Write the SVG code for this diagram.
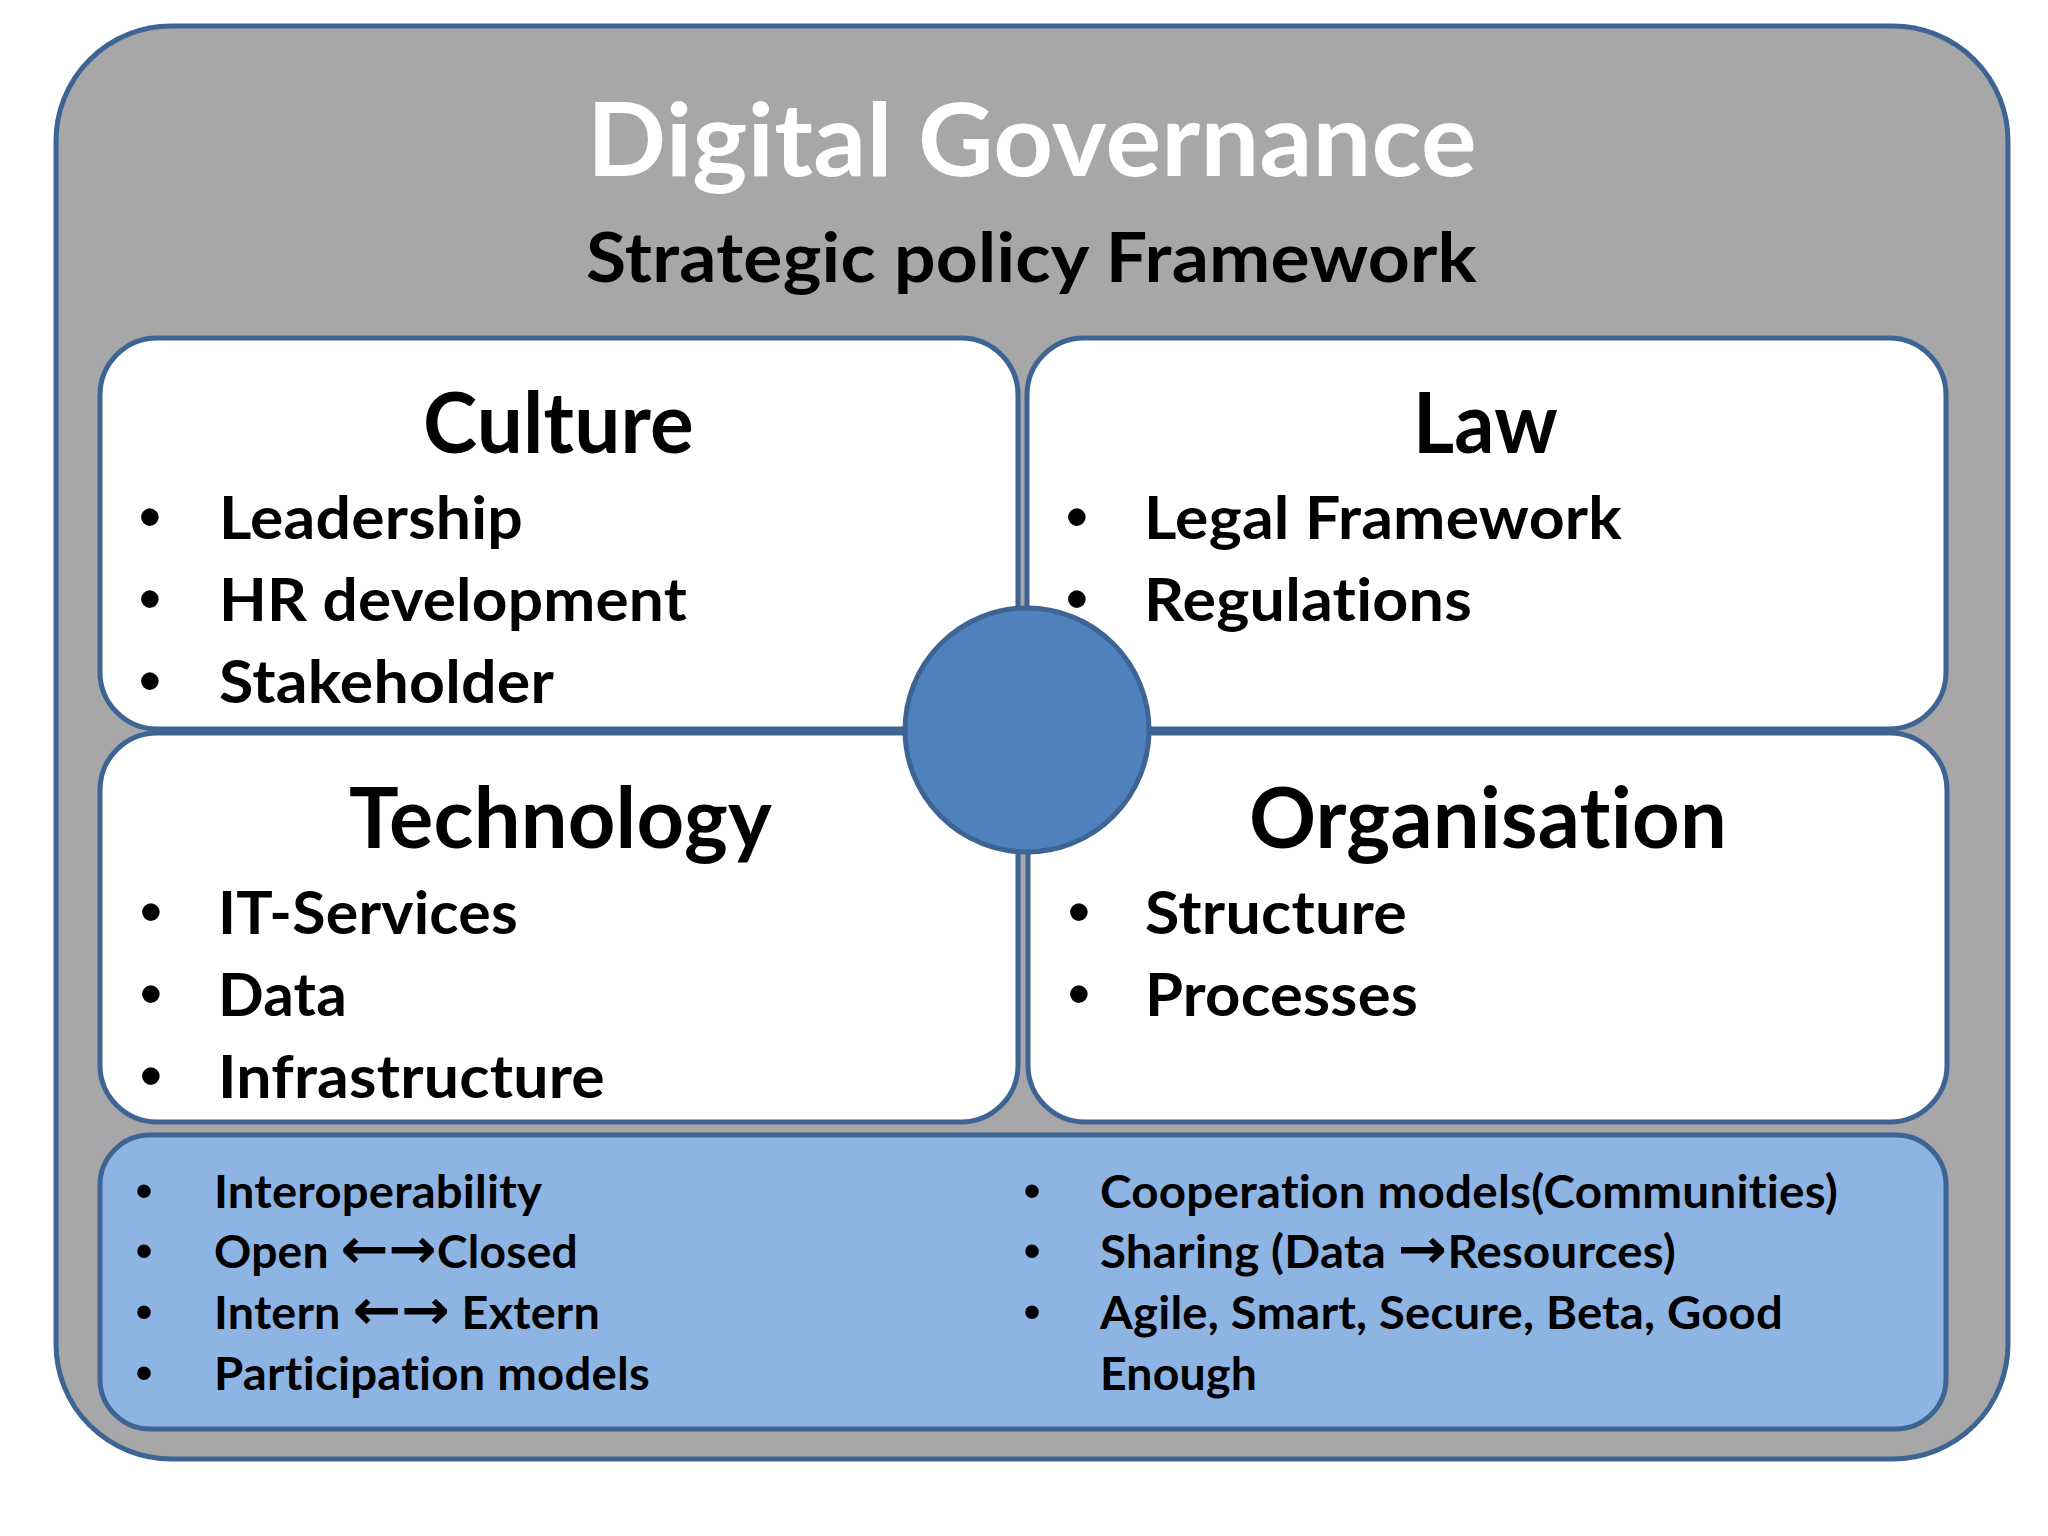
<svg xmlns="http://www.w3.org/2000/svg" width="2048" height="1536" viewBox="0 0 2048 1536">
<style>
.frame{stroke:#3E6493;stroke-width:5}
.t{font-family:Lato,"Open Sans","Liberation Sans",sans-serif;font-weight:700;fill:#000;font-variant-ligatures:none;font-feature-settings:"liga" 0,"clig" 0,"calt" 0,"dlig" 0;letter-spacing:0.2px}
.b{font-family:"Liberation Sans",Arial,sans-serif;font-weight:400;fill:#000;text-anchor:middle}
.arr{font-family:"DejaVu Sans",sans-serif;font-weight:700;font-size:56px}
.title{font-size:101px;fill:#FFFFFF}
.sub{font-size:68px}
.head{font-size:85px}
.item{font-size:59px}
.bi{font-size:65px}
.small{font-size:45px}
.bs{font-size:50px}
</style>
<rect x="0" y="0" width="2048" height="1536" fill="#FFFFFF"/>
<g id="outer">
<rect class="frame" x="56" y="26" width="1952" height="1433" rx="115" ry="115" fill="#A7A6A8"/>
<text class="t title" x="587" y="176" textLength="890" lengthAdjust="spacingAndGlyphs">Digital Governance</text>
<text class="t sub" x="586" y="282" textLength="891" lengthAdjust="spacingAndGlyphs">Strategic policy Framework</text>
</g>
<g id="culture">
<rect class="frame" x="100" y="338" width="918" height="391" rx="57" ry="57" fill="#FFFFFF"/>
<text class="t head" x="423" y="453" textLength="271" lengthAdjust="spacingAndGlyphs">Culture</text>
<text class="b bi" x="150" y="539">•</text>
<text class="t item" x="219" y="539" textLength="304" lengthAdjust="spacingAndGlyphs">Leadership</text>
<text class="b bi" x="150" y="621">•</text>
<text class="t item" x="219" y="621" textLength="468" lengthAdjust="spacingAndGlyphs">HR development</text>
<text class="b bi" x="150" y="703">•</text>
<text class="t item" x="219" y="703" textLength="335" lengthAdjust="spacingAndGlyphs">Stakeholder</text>
</g>
<g id="law">
<rect class="frame" x="1027" y="338" width="919" height="391" rx="57" ry="57" fill="#FFFFFF"/>
<text class="t head" x="1413" y="453" textLength="145" lengthAdjust="spacingAndGlyphs">Law</text>
<text class="b bi" x="1077" y="539">•</text>
<text class="t item" x="1144" y="539" textLength="478" lengthAdjust="spacingAndGlyphs">Legal Framework</text>
<text class="b bi" x="1077" y="621">•</text>
<text class="t item" x="1144" y="621" textLength="328" lengthAdjust="spacingAndGlyphs">Regulations</text>
</g>
<g id="technology">
<rect class="frame" x="100" y="733" width="918" height="389" rx="57" ry="57" fill="#FFFFFF"/>
<text class="t head" x="349" y="848" textLength="423" lengthAdjust="spacingAndGlyphs">Technology</text>
<text class="b bi" x="151" y="934">•</text>
<text class="t item" x="218" y="934" textLength="300" lengthAdjust="spacingAndGlyphs">IT-Services</text>
<text class="b bi" x="151" y="1016">•</text>
<text class="t item" x="218" y="1016" textLength="129" lengthAdjust="spacingAndGlyphs">Data</text>
<text class="b bi" x="151" y="1098">•</text>
<text class="t item" x="218" y="1098" textLength="387" lengthAdjust="spacingAndGlyphs">Infrastructure</text>
</g>
<g id="organisation">
<rect class="frame" x="1028" y="733" width="919" height="389" rx="57" ry="57" fill="#FFFFFF"/>
<text class="t head" x="1249" y="848" textLength="478" lengthAdjust="spacingAndGlyphs">Organisation</text>
<text class="b bi" x="1079" y="934">•</text>
<text class="t item" x="1145" y="934" textLength="262" lengthAdjust="spacingAndGlyphs">Structure</text>
<text class="b bi" x="1079" y="1016">•</text>
<text class="t item" x="1145" y="1016" textLength="273" lengthAdjust="spacingAndGlyphs">Processes</text>
</g>
<g id="principles">
<rect class="frame" x="100" y="1135" width="1846" height="294" rx="50" ry="50" fill="#8EB4E3"/>
<text class="b bs" x="144" y="1208">•</text>
<text class="t small" x="214" y="1208" textLength="328" lengthAdjust="spacingAndGlyphs">Interoperability</text>
<text class="b bs" x="144" y="1268">•</text>
<text class="t small" x="214" y="1268" textLength="364" lengthAdjust="spacingAndGlyphs">Open <tspan class="arr">←→</tspan>Closed</text>
<text class="b bs" x="144" y="1329">•</text>
<text class="t small" x="214" y="1329" textLength="386" lengthAdjust="spacingAndGlyphs">Intern <tspan class="arr">←→</tspan> Extern</text>
<text class="b bs" x="144" y="1390">•</text>
<text class="t small" x="214" y="1390" textLength="436" lengthAdjust="spacingAndGlyphs">Participation models</text>
<text class="b bs" x="1032" y="1208">•</text>
<text class="t small" x="1100" y="1208" textLength="738" lengthAdjust="spacingAndGlyphs">Cooperation models(Communities)</text>
<text class="b bs" x="1032" y="1268">•</text>
<text class="t small" x="1100" y="1268" textLength="576" lengthAdjust="spacingAndGlyphs">Sharing (Data <tspan class="arr">→</tspan>Resources)</text>
<text class="b bs" x="1032" y="1329">•</text>
<text class="t small" x="1100" y="1329" textLength="683" lengthAdjust="spacingAndGlyphs">Agile, Smart, Secure, Beta, Good</text>
<text class="t small" x="1100" y="1390" textLength="157" lengthAdjust="spacingAndGlyphs">Enough</text>
</g>
<g id="hub">
<circle cx="1027" cy="730" r="122" fill="#4F81BD" stroke="#3E6493" stroke-width="5"/>
</g>
</svg>
